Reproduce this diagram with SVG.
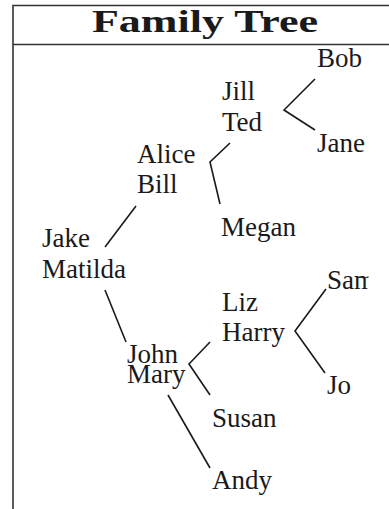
<svg xmlns="http://www.w3.org/2000/svg" width="389" height="509" viewBox="0 0 389 509">
  <style>
    .frame { fill: none; stroke: #333; stroke-width: 1.6; }
    .title { font-family: "Liberation Serif", "DejaVu Serif", serif; font-weight: bold; font-size: 32px; fill: #1a1a1a; }
    .name { font-family: "Liberation Serif", "DejaVu Serif", serif; font-size: 27px; fill: #1a1a1a; }
    .edge { fill: none; stroke: #1a1a1a; stroke-width: 1.6; stroke-linecap: butt; stroke-linejoin: miter; }
  </style>
  <defs>
    <clipPath id="rightClip">
      <rect x="0" y="0" width="368.5" height="509"/>
    </clipPath>
  </defs>
  <rect width="389" height="509" fill="#ffffff"/>

  <!-- header frame -->
  <g id="frame">
    <path class="frame" d="M13,509 V5.5 H389 M13,44.5 H389"/>
    <text class="title" x="92" y="32" textLength="226" lengthAdjust="spacingAndGlyphs">Family Tree</text>
  </g>

  <!-- connectors -->
  <g id="connectors">
    <polyline class="edge" points="315,79 284,110 315,130"/>
    <polyline class="edge" points="230,143 210,162 220,204"/>
    <line class="edge" x1="136" y1="206" x2="105" y2="247"/>
    <line class="edge" x1="105" y1="290" x2="126" y2="342"/>
    <polyline class="edge" points="210,342 189,364 210,395"/>
    <polyline class="edge" points="326,289 295,331 325,373"/>
    <line class="edge" x1="168" y1="395" x2="210" y2="468"/>
  </g>

  <!-- people -->
  <g id="node-bob"><text class="name" x="317" y="67">Bob</text></g>
  <g id="node-jill-ted">
    <text class="name" x="222" y="100">Jill</text>
    <text class="name" x="222" y="131">Ted</text>
  </g>
  <g id="node-jane"><text class="name" x="317" y="152">Jane</text></g>
  <g id="node-alice-bill">
    <text class="name" x="137" y="163">Alice</text>
    <text class="name" x="137" y="193">Bill</text>
  </g>
  <g id="node-megan"><text class="name" x="221" y="236">Megan</text></g>
  <g id="node-jake-matilda">
    <text class="name" x="42" y="247">Jake</text>
    <text class="name" x="42" y="278">Matilda</text>
  </g>
  <g id="node-sam" clip-path="url(#rightClip)"><text class="name" x="327" y="289">Sam</text></g>
  <g id="node-liz-harry">
    <text class="name" x="222" y="311">Liz</text>
    <text class="name" x="222" y="341">Harry</text>
  </g>
  <g id="node-john-mary">
    <text class="name" x="127" y="363">John</text>
    <text class="name" x="127" y="383">Mary</text>
  </g>
  <g id="node-jo"><text class="name" x="327" y="394">Jo</text></g>
  <g id="node-susan"><text class="name" x="212" y="427">Susan</text></g>
  <g id="node-andy"><text class="name" x="212" y="489">Andy</text></g>
</svg>
